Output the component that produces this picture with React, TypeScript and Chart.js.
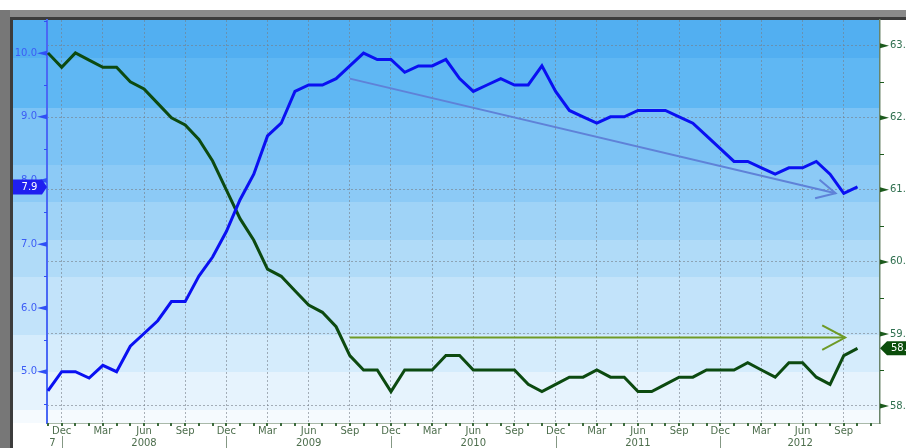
import React, { useEffect, useRef } from 'react';
import { Chart, registerables } from 'chart.js';

Chart.register(...registerables);

// ---------- data ----------
const MONTH_LABELS = [
  'Nov 2007', 'Dec 2007',
  'Jan 2008', 'Feb 2008', 'Mar 2008', 'Apr 2008', 'May 2008', 'Jun 2008', 'Jul 2008', 'Aug 2008', 'Sep 2008', 'Oct 2008', 'Nov 2008', 'Dec 2008',
  'Jan 2009', 'Feb 2009', 'Mar 2009', 'Apr 2009', 'May 2009', 'Jun 2009', 'Jul 2009', 'Aug 2009', 'Sep 2009', 'Oct 2009', 'Nov 2009', 'Dec 2009',
  'Jan 2010', 'Feb 2010', 'Mar 2010', 'Apr 2010', 'May 2010', 'Jun 2010', 'Jul 2010', 'Aug 2010', 'Sep 2010', 'Oct 2010', 'Nov 2010', 'Dec 2010',
  'Jan 2011', 'Feb 2011', 'Mar 2011', 'Apr 2011', 'May 2011', 'Jun 2011', 'Jul 2011', 'Aug 2011', 'Sep 2011', 'Oct 2011', 'Nov 2011', 'Dec 2011',
  'Jan 2012', 'Feb 2012', 'Mar 2012', 'Apr 2012', 'May 2012', 'Jun 2012', 'Jul 2012', 'Aug 2012', 'Sep 2012', 'Oct 2012',
];

// Unemployment rate (left axis, blue)
const UNEMPLOYMENT_RATE = [
  4.7, 5.0,
  5.0, 4.9, 5.1, 5.0, 5.4, 5.6, 5.8, 6.1, 6.1, 6.5, 6.8, 7.2,
  7.7, 8.1, 8.7, 8.9, 9.4, 9.5, 9.5, 9.6, 9.8, 10.0, 9.9, 9.9,
  9.7, 9.8, 9.8, 9.9, 9.6, 9.4, 9.5, 9.6, 9.5, 9.5, 9.8, 9.4,
  9.1, 9.0, 8.9, 9.0, 9.0, 9.1, 9.1, 9.1, 9.0, 8.9, 8.7, 8.5,
  8.3, 8.3, 8.2, 8.1, 8.2, 8.2, 8.3, 8.1, 7.8, 7.9,
];

// Employment-population ratio (right axis, green)
const EMPLOYMENT_RATIO = [
  62.9, 62.7,
  62.9, 62.8, 62.7, 62.7, 62.5, 62.4, 62.2, 62.0, 61.9, 61.7, 61.4, 61.0,
  60.6, 60.3, 59.9, 59.8, 59.6, 59.4, 59.3, 59.1, 58.7, 58.5, 58.5, 58.2,
  58.5, 58.5, 58.5, 58.7, 58.7, 58.5, 58.5, 58.5, 58.5, 58.3, 58.2, 58.3,
  58.4, 58.4, 58.5, 58.4, 58.4, 58.2, 58.2, 58.3, 58.4, 58.4, 58.5, 58.5,
  58.5, 58.6, 58.5, 58.4, 58.6, 58.6, 58.4, 58.3, 58.7, 58.8,
];

const LEFT_TICKS = [5, 6, 7, 8, 9, 10];
const RIGHT_TICKS = [58, 59, 60, 61, 62, 63];
const QUARTER_MONTHS = ['Dec', 'Mar', 'Jun', 'Sep'];
const YEAR_LABELS = ['2007', '2008', '2009', '2010', '2011', '2012'];

// trend arrows in data units: [month index, value]
const BLUE_TREND_FROM = [22, 9.6];
const BLUE_TREND_TO = [57.4, 7.8];
const GREEN_TREND_FROM = [22, 58.95];
const GREEN_TREND_TO = [58.1, 58.95];

// ---------- axis ranges ----------
const X_MIN = -0.07;
const X_MAX = 60.64;
const LEFT_MIN = 4.195;
const LEFT_MAX = 10.52;
const RIGHT_MIN = 57.764;
const RIGHT_MAX = 63.357;

const FONT = '"DejaVu Sans", Verdana, sans-serif';

const BAND_STOPS = [0, 0.094, 0.218, 0.36, 0.452, 0.546, 0.638, 0.782, 0.873, 0.968];
const BAND_COLORS = ['#52aff1', '#5fb7f3', '#7cc3f5', '#8ccaf6', '#9fd3f7', '#b0dbf8', '#c2e3fa', '#d5ecfc', '#e6f3fd', '#f5fafe'];

const GRID_COLOR = 'rgba(118,126,136,0.6)';

const xTickIndices = MONTH_LABELS.map((l, i) => (QUARTER_MONTHS.includes(l.split(' ')[0]) ? i : -1)).filter((i) => i >= 0);

function drawArrow(ctx: CanvasRenderingContext2D, x1: number, y1: number, x2: number, y2: number, color: string, w: number, len: number, ang: number) {
  ctx.save();
  ctx.strokeStyle = color;
  ctx.lineWidth = w;
  ctx.beginPath();
  ctx.moveTo(x1, y1);
  ctx.lineTo(x2, y2);
  ctx.stroke();
  const a = Math.atan2(y2 - y1, x2 - x1);
  ctx.beginPath();
  ctx.moveTo(x2 - len * Math.cos(a - ang), y2 - len * Math.sin(a - ang));
  ctx.lineTo(x2, y2);
  ctx.lineTo(x2 - len * Math.cos(a + ang), y2 - len * Math.sin(a + ang));
  ctx.stroke();
  ctx.restore();
}

const decorPlugin = {
  id: 'decor',
  beforeDraw(chart: any) {
    const { ctx, chartArea: a, width, height } = chart;
    ctx.save();
    ctx.fillStyle = '#ffffff';
    ctx.fillRect(0, 0, width, height);
    const h = a.bottom - a.top;
    for (let i = 0; i < BAND_STOPS.length; i++) {
      const y0 = a.top + BAND_STOPS[i] * h;
      const y1 = a.top + (i + 1 < BAND_STOPS.length ? BAND_STOPS[i + 1] : 1) * h;
      ctx.fillStyle = BAND_COLORS[i];
      ctx.fillRect(13, Math.round(y0), a.right - 13, Math.round(y1) - Math.round(y0));
    }
    // frame
    ctx.fillStyle = '#8a8a8a';
    ctx.fillRect(0, 10, width, 10);
    ctx.fillStyle = '#3c3c3c';
    ctx.fillRect(12, 17, width - 12, 3);
    ctx.fillStyle = '#777777';
    ctx.fillRect(0, 10, 10, height - 10);
    ctx.fillStyle = '#3c3c3c';
    ctx.fillRect(10, 17, 3, height - 17);
    ctx.restore();
  },
  afterDatasetsDraw(chart: any) {
    const { ctx, chartArea: a } = chart;
    const xS = chart.scales.x;
    const yS = chart.scales.y;
    const y2S = chart.scales.y2;
    ctx.save();

    // trend arrows
    drawArrow(ctx,
      xS.getPixelForValue(BLUE_TREND_FROM[0]), yS.getPixelForValue(BLUE_TREND_FROM[1]),
      xS.getPixelForValue(BLUE_TREND_TO[0]), yS.getPixelForValue(BLUE_TREND_TO[1]),
      '#5f82d8', 2, 21, 0.47);
    drawArrow(ctx,
      xS.getPixelForValue(GREEN_TREND_FROM[0]), y2S.getPixelForValue(GREEN_TREND_FROM[1]),
      xS.getPixelForValue(GREEN_TREND_TO[0]), y2S.getPixelForValue(GREEN_TREND_TO[1]),
      '#6e9a26', 2, 26, 0.49);

    // left axis markers
    ctx.fillStyle = '#3050f5';
    ctx.strokeStyle = '#3050f5';
    ctx.lineWidth = 1;
    for (const v of LEFT_TICKS) {
      const y = yS.getPixelForValue(v);
      ctx.beginPath();
      ctx.moveTo(a.left, y - 2.5);
      ctx.lineTo(a.left, y + 2.5);
      ctx.lineTo(a.left - 10, y);
      ctx.closePath();
      ctx.fill();
    }
    for (let v = 4.5; v <= LEFT_MAX; v += 1) {
      const y = Math.round(yS.getPixelForValue(v)) + 0.5;
      ctx.beginPath();
      ctx.moveTo(a.left - 3, y);
      ctx.lineTo(a.left, y);
      ctx.stroke();
    }
    // right axis markers
    ctx.fillStyle = '#1d5a1d';
    ctx.strokeStyle = '#1d5a1d';
    for (const v of RIGHT_TICKS) {
      const y = y2S.getPixelForValue(v);
      ctx.beginPath();
      ctx.moveTo(a.right, y - 2.5);
      ctx.lineTo(a.right, y + 2.5);
      ctx.lineTo(a.right + 9, y);
      ctx.closePath();
      ctx.fill();
    }
    for (let v = 58.5; v <= RIGHT_MAX; v += 1) {
      const y = Math.round(y2S.getPixelForValue(v)) + 0.5;
      ctx.beginPath();
      ctx.moveTo(a.right, y);
      ctx.lineTo(a.right + 4, y);
      ctx.stroke();
    }

    // month ticks on the x axis
    ctx.fillStyle = '#3d6b3d';
    for (let i = 0; i <= Math.floor(X_MAX); i++) {
      const x = xS.getPixelForValue(i);
      if (x > a.right) break;
      ctx.fillRect(Math.round(x) - 1, a.bottom, 2, 3);
    }

    // year separators and labels
    ctx.font = `10px ${FONT}`;
    ctx.textBaseline = 'middle';
    ctx.fillStyle = '#4d6e4d';
    ctx.strokeStyle = '#849884';
    for (const yr of YEAR_LABELS) {
      const prev = MONTH_LABELS.indexOf(`Dec ${Number(yr) - 1}`);
      const cur = MONTH_LABELS.indexOf(`Dec ${yr}`);
      const x0 = prev >= 0 ? xS.getPixelForValue(prev) : a.left;
      const x1 = cur >= 0 ? xS.getPixelForValue(cur) : a.right;
      if (cur >= 0) {
        const xs = Math.round(x1) + 0.5;
        ctx.beginPath();
        ctx.moveTo(xs, 436);
        ctx.lineTo(xs, 448);
        ctx.stroke();
      }
      const tw = ctx.measureText(yr).width;
      if (x1 - x0 < tw + 4) {
        ctx.save();
        ctx.beginPath();
        ctx.rect(a.left + 3, a.bottom, x1 - a.left - 3, 30);
        ctx.clip();
        ctx.textAlign = 'right';
        ctx.fillText(yr, x1 - 6, 443);
        ctx.restore();
      } else {
        ctx.textAlign = 'center';
        ctx.fillText(yr, (x0 + x1) / 2, 443);
      }
    }

    // last-value tags
    const lastBlue = UNEMPLOYMENT_RATE[UNEMPLOYMENT_RATE.length - 1];
    const yb = yS.getPixelForValue(lastBlue);
    ctx.fillStyle = '#1f1ff0';
    ctx.beginPath();
    ctx.moveTo(13, yb - 7.5);
    ctx.lineTo(42, yb - 7.5);
    ctx.lineTo(47, yb);
    ctx.lineTo(42, yb + 7.5);
    ctx.lineTo(13, yb + 7.5);
    ctx.closePath();
    ctx.fill();
    ctx.fillStyle = '#ffffff';
    ctx.textAlign = 'center';
    ctx.fillText(lastBlue.toFixed(1), 29.5, yb + 0.5);

    const lastGreen = EMPLOYMENT_RATIO[EMPLOYMENT_RATIO.length - 1];
    const yg = y2S.getPixelForValue(lastGreen);
    ctx.fillStyle = '#0b4d0b';
    ctx.beginPath();
    ctx.moveTo(a.right, yg);
    ctx.lineTo(a.right + 7, yg - 7);
    ctx.lineTo(a.right + 30, yg - 7);
    ctx.lineTo(a.right + 30, yg + 7);
    ctx.lineTo(a.right + 7, yg + 7);
    ctx.closePath();
    ctx.fill();
    ctx.fillStyle = '#ffffff';
    ctx.textAlign = 'left';
    ctx.fillText(lastGreen.toFixed(1), a.right + 11, yg + 0.5);

    ctx.restore();
  },
};

export default function App() {
  const ref = useRef<HTMLCanvasElement>(null);
  useEffect(() => {
    document.body.style.margin = '0';
    const canvas = ref.current!;
    const chart = new Chart(canvas, {
      type: 'line',
      data: {
        datasets: [
          {
            label: 'Unemployment rate',
            data: UNEMPLOYMENT_RATE.map((v, i) => ({ x: i, y: v })),
            yAxisID: 'y',
            borderColor: '#0a10f2',
            borderWidth: 3,
            pointRadius: 0,
            tension: 0,
          },
          {
            label: 'Employment-population ratio',
            data: EMPLOYMENT_RATIO.map((v, i) => ({ x: i, y: v })),
            yAxisID: 'y2',
            borderColor: '#0c4a10',
            borderWidth: 3,
            pointRadius: 0,
            tension: 0,
          },
        ],
      },
      options: {
        responsive: false,
        animation: false,
        devicePixelRatio: 1,
        events: [],
        layout: { padding: { left: 13, top: 20, right: 0, bottom: 0 } },
        plugins: { legend: { display: false }, tooltip: { enabled: false } },
        scales: {
          x: {
            type: 'linear',
            min: X_MIN,
            max: X_MAX,
            afterBuildTicks: (s: any) => {
              s.ticks = xTickIndices.map((v) => ({ value: v }));
            },
            afterFit: (s: any) => {
              s.height = 25;
            },
            ticks: {
              autoSkip: false,
              maxRotation: 0,
              minRotation: 0,
              padding: 2,
              color: '#4d6e4d',
              font: { family: FONT, size: 10 },
              callback: (v: any) => MONTH_LABELS[Math.round(v)].split(' ')[0],
            },
            grid: {
              display: true,
              drawOnChartArea: true,
              drawTicks: false,
              color: GRID_COLOR,
              lineWidth: 1,
            },
            border: { display: true, color: '#a9b9a9', width: 1, dash: [2, 2] },
          },
          y: {
            type: 'linear',
            position: 'left',
            min: LEFT_MIN,
            max: LEFT_MAX,
            afterBuildTicks: (s: any) => {
              s.ticks = LEFT_TICKS.map((v) => ({ value: v }));
            },
            afterFit: (s: any) => {
              s.width = 34;
            },
            ticks: {
              padding: 10,
              color: '#3c5cf5',
              font: { family: FONT, size: 10 },
              callback: (v: any) => Number(v).toFixed(1),
            },
            grid: { display: true, drawOnChartArea: false, drawTicks: false },
            border: { display: true, color: '#4a68f5', width: 2 },
          },
          y2: {
            type: 'linear',
            position: 'right',
            min: RIGHT_MIN,
            max: RIGHT_MAX,
            afterBuildTicks: (s: any) => {
              s.ticks = RIGHT_TICKS.map((v) => ({ value: v }));
            },
            afterFit: (s: any) => {
              s.width = 26;
            },
            ticks: {
              padding: 10,
              color: '#2f6f4f',
              font: { family: FONT, size: 10 },
              callback: (v: any) => Number(v).toFixed(1),
            },
            grid: {
              display: true,
              drawOnChartArea: true,
              drawTicks: false,
              color: GRID_COLOR,
              lineWidth: 1,
            },
            border: { display: true, color: '#6a846a', width: 1.5, dash: [2, 2] },
          },
        },
      },
      plugins: [decorPlugin],
    } as any);
    return () => chart.destroy();
  }, []);
  return <canvas ref={ref} width={906} height={448} style={{ display: 'block', width: 906, height: 448 }} />;
}
